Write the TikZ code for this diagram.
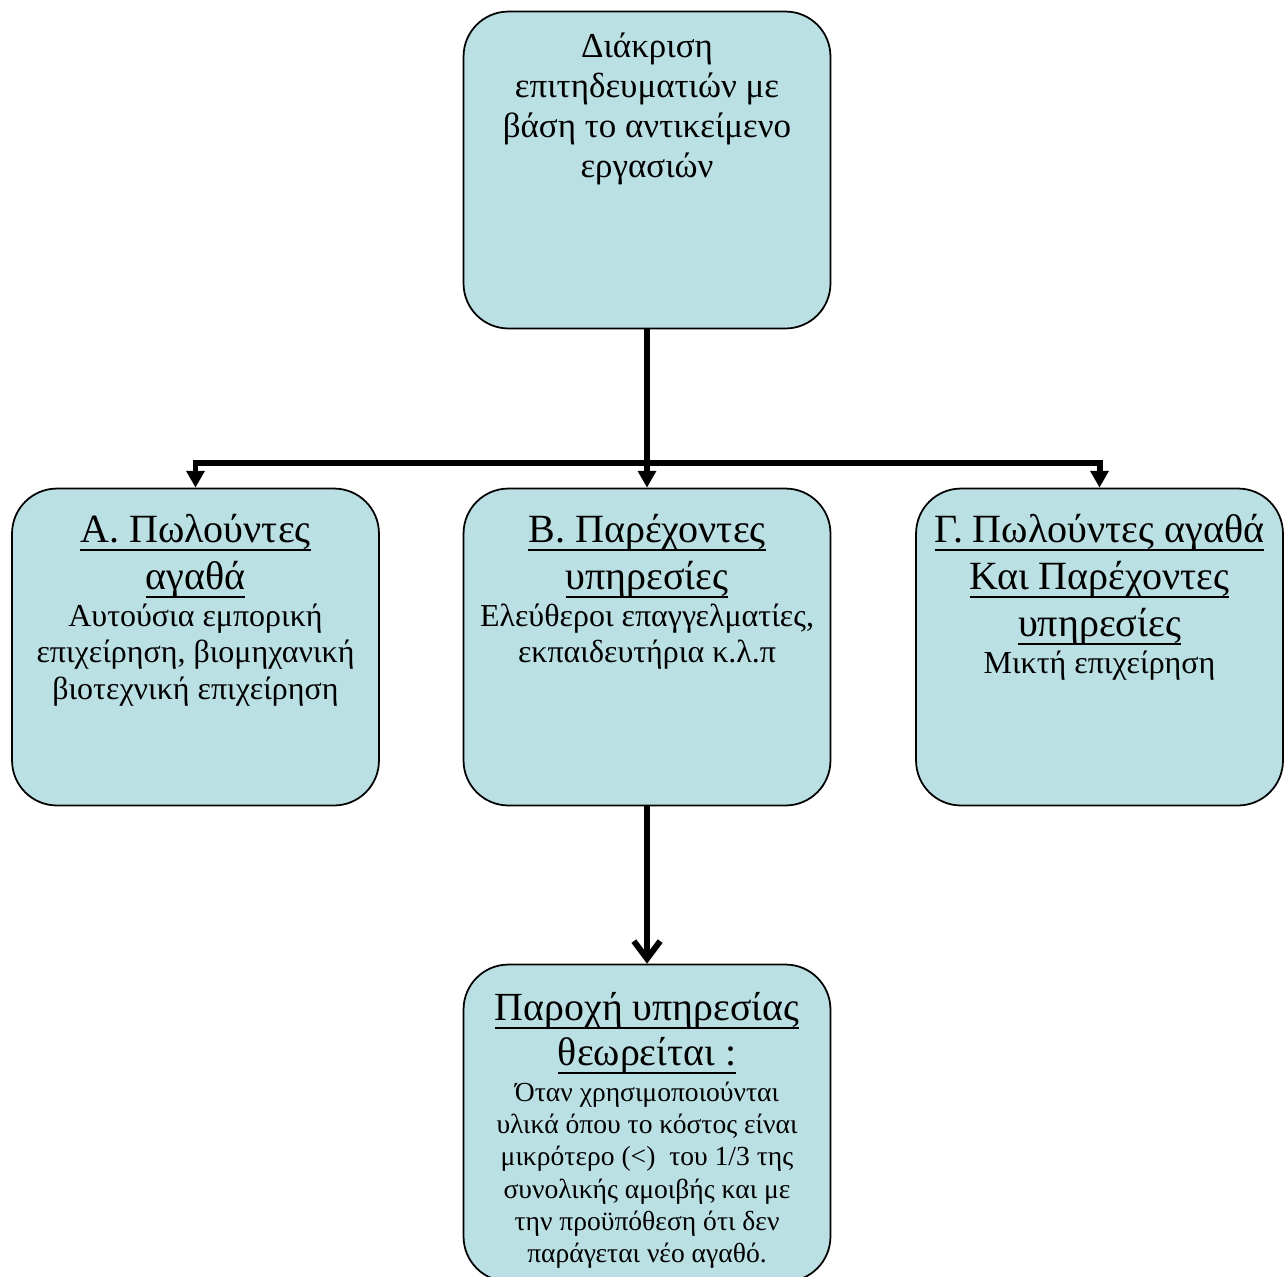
\documentclass[tikz,border=0pt]{standalone}
\usepackage{fontspec}
\setmainfont{Liberation Serif}
\usepackage{tikz}
\usetikzlibrary{arrows.meta, positioning}

\definecolor{boxblue}{RGB}{187,224,227}
% heading underline, a bit heavier and lower than \underline
\newcommand{\ulin}[1]{\setbox0\hbox{#1}\leavevmode\rlap{\rule[-5pt]{\wd0}{1.1pt}}\box0}

\begin{document}
\begin{tikzpicture}[
  x=0.02cm, y=-0.02cm,
  card/.style={rectangle, rounded corners=0.9cm, draw=black, line width=1pt,
               fill=boxblue, minimum width=7.34cm, minimum height=6.34cm, inner sep=0pt},
  headtxt/.style={align=center, inner sep=0pt, font=\fontsize{22.8}{26.8}\selectfont},
  bodytxt/.style={align=center, inner sep=0pt, font=\fontsize{18.2}{20.8}\selectfont},
  conn/.style={-{Triangle[length=9.5pt, width=10pt]}, line width=3.4pt},
  connopen/.style={-{Straight Barb[length=10pt, width=15pt]}, line width=3.4pt}
]
\useasboundingbox (0,0) rectangle (1287,1276);

% Top box
\node[card] (top) at (647,170) {};
\node[align=center, inner sep=0pt, font=\fontsize{19.9}{22.8}\selectfont,
      below=0.44cm of top.north] (topTxt)
  {Διάκριση\\ επιτηδευματιών με\\ βάση το αντικείμενο\\ εργασιών};

% Row 2: A, B, C
\node[card] (boxA) at (195.5,647) {};
\node[card] (boxB) at (647,647) {};
\node[card] (boxC) at (1099.5,647) {};

\node[headtxt, below=0.52cm of boxA.north] (headA)
  {\ulin{Α. Πωλούντες}\\ \ulin{αγαθά}};
\node[bodytxt, below=0.1cm of headA] (bodyA)
  {Αυτούσια εμπορική\\ επιχείρηση, βιομηχανική\\ βιοτεχνική επιχείρηση};

\node[headtxt, below=0.52cm of boxB.north] (headB)
  {\ulin{Β. Παρέχοντες}\\ \ulin{υπηρεσίες}};
\node[bodytxt, below=0.1cm of headB] (bodyB)
  {Ελεύθεροι επαγγελματίες,\\ εκπαιδευτήρια κ.λ.π};

\node[headtxt, below=0.52cm of boxC.north] (headC)
  {\ulin{Γ. Πωλούντες αγαθά}\\ \ulin{Και Παρέχοντες}\\ \ulin{υπηρεσίες}};
\node[bodytxt, below=0.1cm of headC] (bodyC)
  {Μικτή επιχείρηση};

% Bottom box
\node[card] (boxD) at (647,1123) {};
\node[headtxt, font=\fontsize{22.7}{25.6}\selectfont, below=0.56cm of boxD.north] (headD)
  {\ulin{Παροχή υπηρεσίας}\\ \ulin{θεωρείται :}};
\node[bodytxt, font=\fontsize{15.7}{18.4}\selectfont, below=0.14cm of headD] (bodyD)
  {Όταν χρησιμοποιούνται\\ υλικά όπου το κόστος είναι\\ μικρότερο (<)\ \ του 1/3 της\\
   συνολικής αμοιβής και με\\ την προϋπόθεση ότι δεν\\ παράγεται νέο αγαθό.};

% Connectors
\coordinate (split) at (647,463);
\draw[conn] (top) -- (boxB);
\draw[conn] (split) -| (boxA.north);
\draw[conn] (split) -| (boxC.north);
\draw[connopen] (boxB) -- (boxD);

\end{tikzpicture}
\end{document}
